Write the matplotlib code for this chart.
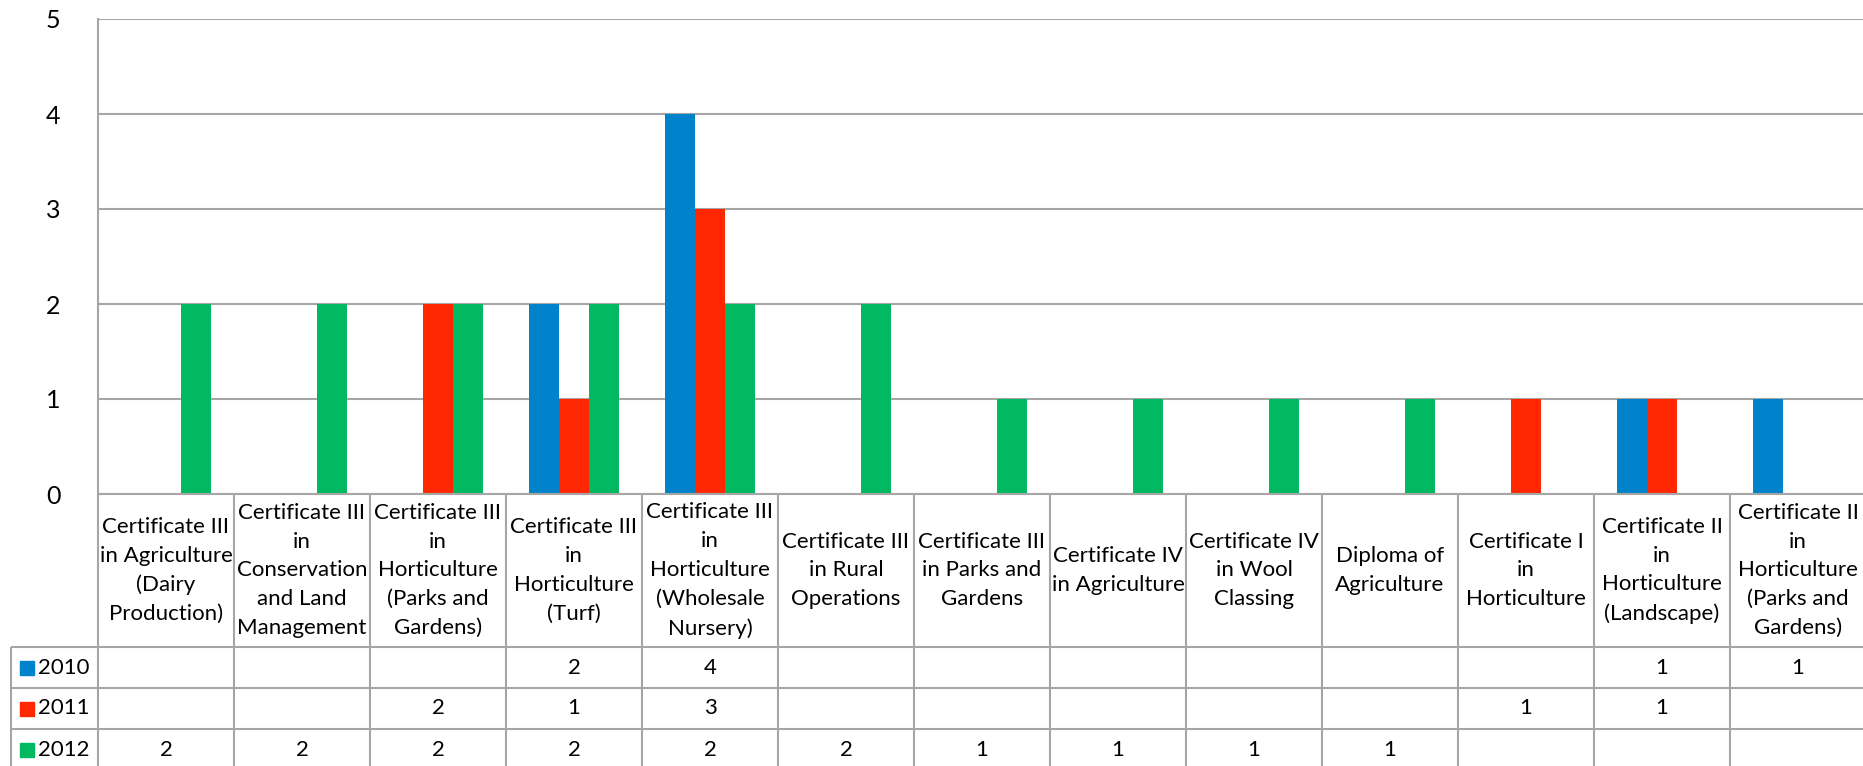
import numpy as np
import matplotlib
matplotlib.use("Agg")
import matplotlib.pyplot as plt
from matplotlib.patches import Rectangle

plt.rcParams['font.family'] = ['Lato', 'DejaVu Sans']

categories = [
    "Certificate III\nin Agriculture\n(Dairy\nProduction)",
    "Certificate III\nin\nConservation\nand Land\nManagement",
    "Certificate III\nin\nHorticulture\n(Parks and\nGardens)",
    "Certificate III\nin\nHorticulture\n(Turf)",
    "Certificate III\nin\nHorticulture\n(Wholesale\nNursery)",
    "Certificate III\nin Rural\nOperations",
    "Certificate III\nin Parks and\nGardens",
    "Certificate IV\nin Agriculture",
    "Certificate IV\nin Wool\nClassing",
    "Diploma of\nAgriculture",
    "Certificate I\nin\nHorticulture",
    "Certificate II\nin\nHorticulture\n(Landscape)",
    "Certificate II\nin\nHorticulture\n(Parks and\nGardens)",
]
years = ["2010", "2011", "2012"]
v2010 = [None, None, None, 2, 4, None, None, None, None, None, None, 1, 1]
v2011 = [None, None, 2, 1, 3, None, None, None, None, None, 1, 1, None]
v2012 = [2, 2, 2, 2, 2, 2, 1, 1, 1, 1, None, None, None]
colors = ["#0083CA", "#FF2700", "#00B960"]
series = [v2010, v2011, v2012]

W, H = 1863, 766
col_px = 136
x0_px = 98
top_px, zero_px = 19, 494
leg_px = 11
n = len(categories)
grid_c = "#A6A6A6"
fs = 16

fig = plt.figure(figsize=(W / 100, H / 100), dpi=100)

# bar chart area
ax = fig.add_axes([x0_px / W, (H - zero_px) / H, n * col_px / W, (zero_px - top_px) / H])
ax.set_xlim(-0.5, n - 0.5)
ax.set_ylim(0, 5)
ax.set_yticks(range(6))
ax.set_xticks([])
ax.yaxis.grid(True, color=grid_c, lw=1.5)
ax.set_axisbelow(True)
for s in ["top", "right", "bottom"]:
    ax.spines[s].set_visible(False)
ax.spines["left"].set_color(grid_c)
ax.spines["left"].set_linewidth(1.5)
ax.tick_params(axis="y", length=0, pad=27, labelsize=18)

bw = 30 / col_px
x = np.arange(n)
for k, (vals, c) in enumerate(zip(series, colors)):
    h = [v if v is not None else 0 for v in vals]
    ax.bar(x + (k - 1) * bw, h, width=bw, color=c, zorder=3)

# data table below
header_h, row_h = 153, 41
tab_h = header_h + 3 * row_h
xl = -0.5 - (x0_px - leg_px) / col_px
tx = fig.add_axes([leg_px / W, (H - zero_px - tab_h) / H,
                   (x0_px + n * col_px - leg_px) / W, tab_h / H])
tx.set_xlim(xl, n - 0.5)
tx.set_ylim(tab_h, 0)
tx.axis("off")

lk = dict(color=grid_c, lw=1.5, clip_on=False, solid_capstyle="butt")
tx.plot([-0.5, n - 0.5], [0, 0], **lk)
for yy in [header_h + r * row_h for r in range(4)]:
    tx.plot([xl, n - 0.5], [yy, yy], **lk)
for i in range(n + 1):
    tx.plot([i - 0.5, i - 0.5], [0, tab_h], **lk)
tx.plot([xl, xl], [header_h, tab_h], **lk)

for i, lab in enumerate(categories):
    tx.text(i, header_h / 2, lab, ha="center", va="center",
            fontsize=fs, linespacing=1.55)

px = 1 / col_px
for r, (yr, vals, c) in enumerate(zip(years, series, colors)):
    yc = header_h + (r + 0.5) * row_h
    tx.add_patch(Rectangle((xl + 9 * px, yc - 7), 14 * px, 14, color=c, clip_on=False))
    tx.text(xl + 27 * px, yc, yr, ha="left", va="center", fontsize=fs)
    for i, v in enumerate(vals):
        if v is not None:
            tx.text(i, yc, str(v), ha="center", va="center", fontsize=fs)

fig.savefig("out.png", dpi=100)
